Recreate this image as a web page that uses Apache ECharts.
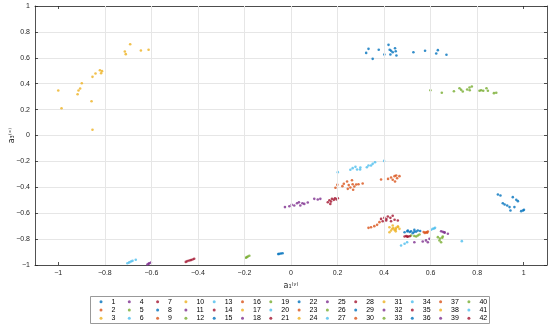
<!DOCTYPE html>
<html>
<head>
<meta charset="utf-8">
<script src="https://cdn.jsdelivr.net/npm/echarts@6/dist/echarts.min.js"></script>
<style>html,body{margin:0;padding:0;background:#fff}#c{width:550px;height:327px}</style>
</head>
<body>
<div id="c"></div>
<script>
// ---- data ----
const xTicks = [-1, -0.8, -0.6, -0.4, -0.2, 0, 0.2, 0.4, 0.6, 0.8, 1];
const yTicks = [-1, -0.8, -0.6, -0.4, -0.2, 0, 0.2, 0.4, 0.6, 0.8, 1];
const palette = ['#0072BD', '#D95319', '#EDB120', '#7E2F8E', '#77AC30', '#4DBEEE', '#A2142F'];
const xName = 'a₁⁽ʸ⁾';
const yName = 'a₃⁽ˣ⁾';

const S1 = [[0.323,0.638],[0.333,0.669],[0.351,0.592],[0.377,0.662],[0.401,0.625],[0.419,0.700],[0.424,0.662],[0.430,0.654],[0.427,0.625],[0.437,0.643],[0.447,0.674],[0.450,0.651],[0.453,0.618],[0.526,0.643],[0.576,0.654],[0.624,0.633],[0.631,0.659],[0.668,0.623]];
const S2 = [[0.191,-0.404],[0.199,-0.381],[0.221,-0.391],[0.227,-0.373],[0.241,-0.355],[0.248,-0.383],[0.255,-0.401],[0.262,-0.345],[0.265,-0.376],[0.267,-0.419],[0.272,-0.394],[0.280,-0.378],[0.290,-0.376],[0.308,-0.371],[0.244,-0.412]];
const S3 = [[-1.000,0.347],[-0.986,0.210],[-0.917,0.319],[-0.913,0.347],[-0.906,0.363],[-0.899,0.404],[-0.857,0.265],[-0.853,0.044],[-0.853,0.453],[-0.840,0.479],[-0.821,0.504],[-0.816,0.481],[-0.812,0.497],[-0.714,0.649],[-0.710,0.628],[-0.691,0.705],[-0.645,0.656],[-0.612,0.662]];
const S4 = [[-0.026,-0.553],[-0.007,-0.546],[0.003,-0.535],[0.014,-0.541],[0.026,-0.523],[0.034,-0.515],[0.040,-0.541],[0.049,-0.523],[0.057,-0.528],[0.072,-0.517],[0.100,-0.489],[0.115,-0.494],[0.126,-0.489]];
const S5 = [[0.599,0.350],[0.648,0.330],[0.700,0.342],[0.724,0.365],[0.731,0.353],[0.738,0.340],[0.757,0.355],[0.767,0.371],[0.777,0.378],[0.768,0.350],[0.810,0.345],[0.817,0.350],[0.826,0.345],[0.840,0.365],[0.846,0.345],[0.872,0.327],[0.882,0.330]];
const S6 = [[0.201,-0.283],[0.255,-0.265],[0.265,-0.252],[0.277,-0.242],[0.284,-0.263],[0.297,-0.263],[0.298,-0.247],[0.326,-0.245],[0.333,-0.232],[0.344,-0.232],[0.351,-0.219],[0.361,-0.206],[0.400,-0.196]];
const S7 = [[0.158,-0.515],[0.165,-0.500],[0.172,-0.510],[0.176,-0.489],[0.184,-0.497],[0.189,-0.484],[0.196,-0.494],[0.169,-0.528],[0.201,-0.484]];
const S8 = [[0.889,-0.456],[0.900,-0.463],[0.953,-0.476],[0.968,-0.497],[0.975,-0.507],[0.910,-0.523],[0.918,-0.533],[0.929,-0.541],[0.939,-0.553],[0.943,-0.579],[0.960,-0.553],[0.989,-0.584],[1.001,-0.574],[0.997,-0.579]];
const S9 = [[0.387,-0.340],[0.417,-0.335],[0.430,-0.324],[0.437,-0.342],[0.445,-0.314],[0.447,-0.355],[0.456,-0.330],[0.466,-0.314],[0.452,-0.309]];
const S10 = [[0.423,-0.708],[0.437,-0.695],[0.452,-0.713],[0.459,-0.703],[0.430,-0.734],[0.445,-0.729],[0.466,-0.721],[0.423,-0.747]];
const S11 = [[-0.617,-0.996],[-0.609,-0.986],[-0.602,-0.981],[-0.612,-0.990]];
const S12 = [[-0.194,-0.944],[-0.186,-0.934],[-0.179,-0.929],[-0.190,-0.940]];
const S13 = [[-0.703,-0.986],[-0.695,-0.980],[-0.688,-0.973],[-0.681,-0.968],[-0.667,-0.960]];
const S14 = [[-0.452,-0.976],[-0.445,-0.970],[-0.437,-0.965],[-0.430,-0.962],[-0.423,-0.958],[-0.416,-0.952]];
const S15 = [[-0.055,-0.916],[-0.050,-0.914],[-0.043,-0.911],[-0.036,-0.909]];
const S16 = [[0.333,-0.713],[0.344,-0.708],[0.358,-0.700],[0.370,-0.690],[0.380,-0.669]];
const S17 = [[0.440,-0.715],[0.450,-0.725]];
const S18 = [[0.645,-0.739],[0.659,-0.747],[0.674,-0.759],[0.652,-0.744]];
const S19 = [[0.631,-0.785],[0.638,-0.811],[0.652,-0.780],[0.645,-0.824],[0.640,-0.795]];
const S20 = [[0.473,-0.849],[0.488,-0.836],[0.499,-0.824]];
const S21 = [[0.387,-0.644],[0.401,-0.636],[0.416,-0.625],[0.427,-0.636],[0.437,-0.620],[0.445,-0.651],[0.459,-0.656],[0.409,-0.656],[0.430,-0.662],[0.394,-0.662]];
const S22 = [[0.488,-0.747],[0.502,-0.734],[0.516,-0.739],[0.530,-0.729],[0.545,-0.734],[0.523,-0.754],[0.510,-0.745],[0.538,-0.742]];
const S23 = [[0.581,-0.747],[0.588,-0.741],[0.575,-0.752]];
const S24 = [[0.460,-0.705]];
const S25 = [[0.530,-0.824],[0.566,-0.819],[0.588,-0.824],[0.595,-0.798]];
const S26 = [[0.516,-0.772],[0.538,-0.780],[0.552,-0.765],[0.545,-0.772]];
const S27 = [[0.609,-0.721],[0.619,-0.713],[0.602,-0.728]];
const S28 = [[0.488,-0.780],[0.502,-0.780],[0.495,-0.776],[0.510,-0.778]];
const S29 = [[0.530,-0.745],[0.555,-0.738]];
const S30 = [[0.570,-0.745]];
const S31 = [[0.435,-0.720]];
const S32 = [[0.580,-0.810]];
const S33 = [[0.530,-0.776]];
const S34 = [[0.734,-0.816]];
const S35 = [[0.410,-0.645]];
const S36 = [[0.500,-0.740]];
const S37 = [[0.585,-0.750]];
const S38 = [[0.450,-0.740]];
const S39 = [[0.660,-0.750]];
const S40 = [[0.650,-0.790]];
const S41 = [[0.615,-0.718]];
const S42 = [[0.500,-0.782]];

const seriesData = [S1,S2,S3,S4,S5,S6,S7,S8,S9,S10,S11,S12,S13,S14,S15,S16,S17,S18,S19,S20,S21,S22,S23,S24,S25,S26,S27,S28,S29,S30,S31,S32,S33,S34,S35,S36,S37,S38,S39,S40,S41,S42];
const seriesNames = seriesData.map((_, i) => String(i + 1));

// ---- chart ----
const chart = echarts.init(document.getElementById('c'), null, {renderer: 'canvas'});
const txt = '#262626';
const fmt = v => String(Math.round(v * 10) / 10).replace('-', '\u2212');
const tickStyle = {show: true, inside: true, length: 3, customValues: xTicks, lineStyle: {color: txt, width: 0.8}};
const baseX = {
  type: 'value', min: -1.1, max: 1.1,
  axisLine: {show: true, onZero: false, lineStyle: {color: txt, width: 0.8}},
  axisTick: tickStyle,
  splitLine: {show: false}
};
const baseY = {
  type: 'value', min: -1, max: 1, interval: 0.2,
  axisLine: {show: true, onZero: false, lineStyle: {color: txt, width: 0.8}},
  axisTick: {show: true, inside: true, length: 3, lineStyle: {color: txt, width: 0.8}}
};

const legends = [];
for (let c = 0; c < 14; c++) {
  legends.push({
    orient: 'vertical',
    left: 99.5 + c * 28.3,
    top: 297.7,
    itemWidth: 3, itemHeight: 8, itemGap: 0.3,
    icon: 'circle',
    selectedMode: false,
    padding: 0,
    data: [seriesNames[c * 3], seriesNames[c * 3 + 1], seriesNames[c * 3 + 2]],
    textStyle: {fontSize: 7, lineHeight: 8, color: '#000', fontFamily: 'Liberation Sans', padding: [0, 0, 0, 4]}
  });
}

const series = seriesData.map((d, i) => ({
  name: seriesNames[i],
  type: 'scatter',
  data: d,
  symbol: 'circle',
  symbolSize: 2.6,
  z: 3,
  itemStyle: {color: palette[i % 7]}
}));
// vertical grid lines at the x tick values
series.push({
  type: 'scatter', data: [], silent: true, z: 1,
  markLine: {
    silent: true, symbol: ['none', 'none'], animation: false,
    label: {show: false},
    lineStyle: {color: '#e6e6e6', width: 1, type: 'solid'},
    emphasis: {disabled: true},
    data: xTicks.slice(1, -1).map(v => ({xAxis: v}))
  }
});

chart.setOption({
  animation: false,
  color: palette,
  textStyle: {fontFamily: 'Liberation Sans'},
  grid: {left: 35, right: 3, top: 6, bottom: 62, containLabel: false, outerBoundsMode: 'none'},
  xAxis: [
    Object.assign({}, baseX, {
      position: 'bottom',
      name: xName, nameLocation: 'middle', nameGap: 17, nameMoveOverlap: false,
      nameTextStyle: {fontSize: 8, color: txt, fontFamily: 'DejaVu Sans'},
      axisLabel: {fontSize: 7, color: txt, margin: 5, formatter: fmt, customValues: xTicks}
    }),
    Object.assign({}, baseX, {position: 'top', axisLabel: {show: false}})
  ],
  yAxis: [
    Object.assign({}, baseY, {
      position: 'left',
      name: yName, nameLocation: 'middle', nameGap: 19, nameMoveOverlap: false,
      nameTextStyle: {fontSize: 8, color: txt, fontFamily: 'DejaVu Sans'},
      axisLabel: {fontSize: 7, color: txt, margin: 5, formatter: fmt},
      splitLine: {show: true, lineStyle: {color: '#e6e6e6', width: 1}}
    }),
    Object.assign({}, baseY, {position: 'right', axisLabel: {show: false}, splitLine: {show: false}})
  ],
  legend: legends,
  graphic: [{
    type: 'rect', z: -1, silent: true,
    shape: {x: 90.5, y: 296.5, width: 399, height: 27},
    style: {fill: '#fff', stroke: '#999', lineWidth: 1}
  }],
  series: series
});
</script>
</body>
</html>
